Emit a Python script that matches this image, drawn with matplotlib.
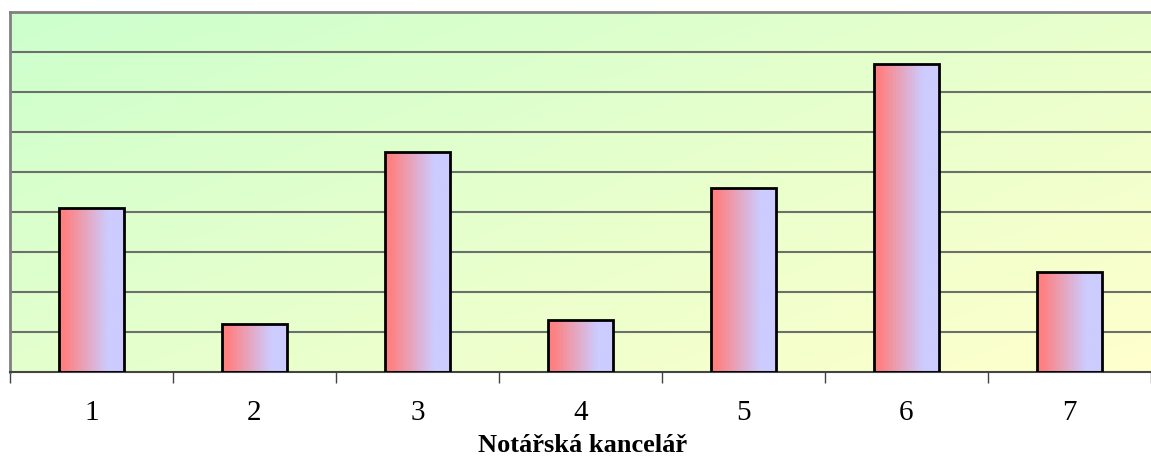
import numpy as np
import matplotlib.pyplot as plt
from matplotlib.colors import LinearSegmentedColormap

categories = ['1', '2', '3', '4', '5', '6', '7']
values = [4.1, 1.2, 5.5, 1.3, 4.6, 7.7, 2.5]
xlabel = 'Notářská kancelář'

plt.rcParams['font.family'] = ['Liberation Serif', 'DejaVu Serif']

fig = plt.figure(figsize=(11.51, 4.66), dpi=100)
ax = fig.add_axes([10/1151, 1 - 372/466, 1141/1151, 360/466])

n = len(categories)

# background: green top-left -> yellow bottom-right
bg = LinearSegmentedColormap.from_list('bg', ['#ccffcc', '#ffffcc'])
gx, gy = np.meshgrid(np.linspace(0, 1, 300), np.linspace(0, 1, 100))
grad = 0.55 * gx + 0.45 * gy
ax.imshow(grad, cmap=bg, extent=[0, n, 0, 9], origin='upper', aspect='auto', zorder=0)

for y in range(1, 9):
    ax.axhline(y, color='#6e6e6e', lw=1.5, zorder=1)

# bars with horizontal gradient
barcm = LinearSegmentedColormap.from_list('bar', [(0, '#ff8080'), (0.08, '#ff8080'),
                                                  (0.75, '#ccccff'), (1, '#ccccff')])
w = 0.4
row = np.linspace(0, 1, 200).reshape(1, -1)
for i, v in enumerate(values):
    x0 = i + 0.5 - w / 2
    ax.imshow(row, cmap=barcm, extent=[x0, x0 + w, 0, v], aspect='auto', zorder=2)
    ax.bar(i + 0.5, v, width=w, fill=False, edgecolor='black', lw=2, zorder=3)

ax.set_xlim(0, n)
ax.set_ylim(0, 9)
ax.set_xticks(np.arange(n + 1), minor=False)
ax.set_xticklabels([])
ax.tick_params(axis='x', which='major', length=8, width=1, color='#444444', direction='out')
ax.set_xticks(np.arange(n) + 0.5, minor=True)
ax.set_xticklabels(categories, minor=True, fontsize=21)
ax.tick_params(axis='x', which='minor', length=0, pad=20)
ax.set_yticks([])

ax.spines['left'].set_color('#808080')
ax.spines['left'].set_linewidth(2)
ax.spines['top'].set_color('#808080')
ax.spines['top'].set_linewidth(2)
ax.spines['right'].set_visible(False)
ax.spines['bottom'].set_color('#444444')
ax.spines['bottom'].set_linewidth(1.5)

fig.text(583/1151, 1 - 446/466, xlabel, ha='center', va='center',
         fontsize=19, fontweight='bold')

fig.savefig('out.png', dpi=100)
